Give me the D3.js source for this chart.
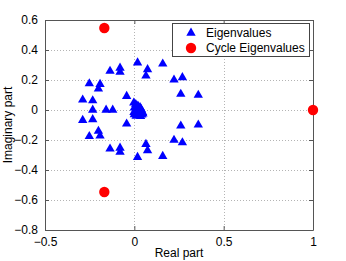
<!DOCTYPE html>
<html>
<head>
<meta charset="utf-8">
<script src="https://cdn.jsdelivr.net/npm/d3@7"></script>
<style>
  body { margin: 0; background: #fff; }
  text { font-family: "Liberation Sans", Arial, sans-serif; }
</style>
</head>
<body>
<script>
// eigenvalues (real / imaginary parts)
var eigRe = [0.018, 0.018, 0.159, 0.159, -0.080, -0.080, -0.080, -0.080, -0.136, -0.136,
  0.074, 0.074, 0.065, 0.065, 0.222, 0.222, 0.269, 0.269, 0.260, 0.260, 0.358, 0.358,
  -0.252, -0.252, -0.192, -0.192, -0.201, -0.201, -0.289, -0.289, -0.233, -0.233,
  -0.043, -0.043, -0.233, -0.158, -0.121,
  -0.003, 0.008, 0.020, 0.032, 0.000, 0.018, 0.038, 0.005, 0.025, 0.046, 0.000, 0.020, 0.042,
  0.012, 0.030, 0.010, 0.035, -0.002, 0.048, 0.015, 0.026, 0.030, 0.006, 0.040];
var eigIm = [0.315, -0.315, 0.308, -0.308, 0.280, -0.280, 0.253, -0.253, 0.259, -0.259,
  0.270, -0.270, 0.228, -0.228, 0.201, -0.201, 0.217, -0.217, 0.106, -0.106, 0.099, -0.099,
  0.176, -0.176, 0.172, -0.172, 0.141, -0.141, 0.068, -0.068, 0.063, -0.063,
  0.092, -0.092, 0.000, 0.000, 0.000,
  0.048, 0.038, 0.028, 0.018, 0.014, 0.010, 0.005, -0.008, -0.010, -0.015, -0.030, -0.032, -0.032,
  -0.018, 0.000, -0.040, -0.042, -0.015, -0.025, 0.000, 0.012, -0.028, -0.020, -0.005];
var cycleRe = [-0.168, -0.168, 1.0];
var cycleIm = [0.547, -0.547, 0.0];

var xTicks = [-0.5, 0, 0.5, 1];
var yTicks = [0.6, 0.4, 0.2, 0, -0.2, -0.4, -0.6, -0.8];
var legendLabels = ["Eigenvalues", "Cycle Eigenvalues"];

var w = 346, h = 261;
var pLeft = 45, pRight = 313, pTop = 20, pBottom = 230;

var svg = d3.select("body").append("svg")
  .attr("width", w)
  .attr("height", h);

var x = d3.scaleLinear().domain([-0.5, 1]).range([pLeft, pRight]);
var y = d3.scaleLinear().domain([-0.8, 0.6]).range([pBottom, pTop]);

var fmt = function(d) { return d === 0 ? "0" : String(d).replace("-", "\u2212"); };

// grid
var grid = svg.append("g");
grid.selectAll("line.gx")
  .data(xTicks.filter(function(d) { return d > -0.5 && d < 1; }))
  .enter().append("line")
  .attr("x1", function(d) { return Math.round(x(d)) + 0.5; })
  .attr("x2", function(d) { return Math.round(x(d)) + 0.5; })
  .attr("y1", pTop).attr("y2", pBottom)
  .attr("stroke", "#b4b4b4").attr("stroke-dasharray", "1,2");
grid.selectAll("line.gy")
  .data(yTicks.filter(function(d) { return d > -0.8 && d < 0.6; }))
  .enter().append("line")
  .attr("y1", function(d) { return Math.round(y(d)) + 0.5; })
  .attr("y2", function(d) { return Math.round(y(d)) + 0.5; })
  .attr("x1", pLeft).attr("x2", pRight)
  .attr("stroke", "#b4b4b4").attr("stroke-dasharray", "1,2");

// axes (box on, inward ticks)
var xAxisB = d3.axisBottom(x).tickValues(xTicks).tickFormat(fmt).tickSizeInner(-4).tickSizeOuter(0).tickPadding(7);
var xAxisT = d3.axisTop(x).tickValues(xTicks).tickFormat("").tickSizeInner(-4).tickSizeOuter(0);
var yAxisL = d3.axisLeft(y).tickValues(yTicks).tickFormat(fmt).tickSizeInner(-4).tickSizeOuter(0).tickPadding(7);
var yAxisR = d3.axisRight(y).tickValues(yTicks).tickFormat("").tickSizeInner(-4).tickSizeOuter(0);

function styleAxis(g) {
  g.select(".domain").attr("stroke", "#555");
  g.selectAll(".tick line").attr("stroke", "#555");
  g.selectAll(".tick text").attr("fill", "#000").style("font-size", "12px")
    .style("font-family", "Liberation Sans, Arial, sans-serif");
}

svg.append("g").attr("transform", "translate(0," + pBottom + ")").call(xAxisB).call(styleAxis);
svg.append("g").attr("transform", "translate(0," + pTop + ")").call(xAxisT).call(styleAxis);
svg.append("g").attr("transform", "translate(" + pLeft + ",0)").call(yAxisL).call(styleAxis);
svg.append("g").attr("transform", "translate(" + pRight + ",0)").call(yAxisR).call(styleAxis);

// eigenvalues
var tri = d3.symbol().type(d3.symbolTriangle).size(38);
svg.append("g").selectAll("path")
  .data(d3.range(eigRe.length))
  .enter().append("path")
  .attr("d", tri)
  .attr("transform", function(i) { return "translate(" + x(eigRe[i]) + "," + y(eigIm[i]) + ")"; })
  .attr("fill", "#0000ff");

// cycle eigenvalues
svg.append("g").selectAll("circle")
  .data(d3.range(cycleRe.length))
  .enter().append("circle")
  .attr("cx", function(i) { return x(cycleRe[i]); })
  .attr("cy", function(i) { return y(cycleIm[i]); })
  .attr("r", 5.2)
  .attr("fill", "#ff0000");

// axis labels
svg.append("text")
  .attr("x", (pLeft + pRight) / 2).attr("y", 257)
  .attr("text-anchor", "middle").style("font-size", "12px")
  .text("Real part");
svg.append("text")
  .attr("transform", "translate(12," + ((pTop + pBottom) / 2) + ") rotate(-90)")
  .attr("text-anchor", "middle").style("font-size", "12px")
  .text("Imaginary part");

// legend
var lg = svg.append("g");
lg.append("rect")
  .attr("x", 172.5).attr("y", 23.5).attr("width", 137).attr("height", 33)
  .attr("fill", "#fff").attr("stroke", "#444");
lg.append("path")
  .attr("d", tri)
  .attr("transform", "translate(191,33)")
  .attr("fill", "#0000ff");
lg.append("circle")
  .attr("cx", 191).attr("cy", 48).attr("r", 5.2)
  .attr("fill", "#ff0000");
lg.selectAll("text.lab")
  .data(legendLabels)
  .enter().append("text")
  .attr("x", 206)
  .attr("y", function(d, i) { return 33 + i * 15; })
  .attr("dy", "0.35em")
  .style("font-size", "12px")
  .text(function(d) { return d; });
</script>
</body>
</html>
